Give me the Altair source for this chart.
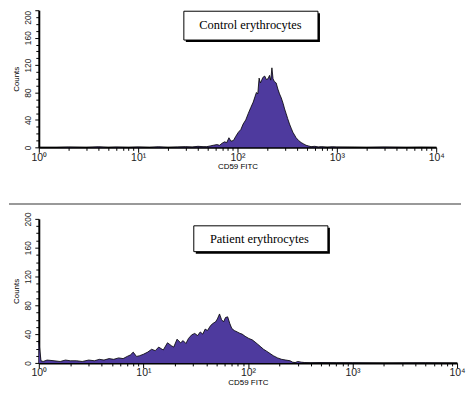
import altair as alt
import pandas as pd

# ---- data ----
control_fitc = [1, 1.5, 2, 3, 4, 5, 6, 8, 10, 13, 16, 20, 25, 30, 35, 40, 45, 49, 53, 57,
                62, 66, 70, 74, 78, 82, 86, 91, 96, 102, 108, 114, 121, 128, 136, 144, 150,
                155, 160, 165, 170, 174, 180, 188, 195, 203, 210, 216, 222, 228, 235, 245,
                255, 265, 276, 288, 298, 309, 320, 334, 347, 361, 375, 389, 412, 437, 463,
                490, 520, 550, 600, 650, 700, 800, 900, 1000, 1500, 2000, 3000, 5000, 7000,
                10000]
control_counts = [0, 0, 0.5, 0, 0.8, 0, 0.5, 0, 0.6, 0, 0.8, 0, 0.6, 1, 0.5, 1.5, 1, 1, 2, 3,
                  4, 3, 6, 8, 7, 14, 9, 10, 16, 22, 26, 34, 40, 49, 58, 66, 74,
                  80, 78, 101, 94, 97, 102, 104, 99, 100, 105, 98, 116, 100, 96, 94,
                  85, 78, 72, 64, 56, 49, 42, 34, 28, 22, 18, 14, 10, 7, 5,
                  3, 2, 1, 1.5, 0.5, 1, 0.3, 0.8, 0.5, 0.3, 0, 0.5, 0, 0.3,
                  0]

patient_fitc = [1, 1.05, 1.1, 1.2, 1.4, 1.6, 1.8, 2.0, 2.3, 2.6, 3.0, 3.4, 3.8, 4.2, 4.7, 5.2,
                5.8, 6.4, 7.0, 7.5, 8.0, 8.6, 9.2, 10, 11, 12, 13, 14, 15.5, 17, 18.5, 19.5,
                21, 22.7, 24, 25.5, 27, 29, 31, 33, 35, 37, 39, 41, 44, 46.5, 49, 51, 53.5,
                56, 58.5, 61, 64, 67, 70, 74, 79, 84, 88, 94, 102, 110, 117, 124, 131, 141,
                152, 163, 175, 192, 210, 230, 253, 268, 283, 300, 325, 350, 400, 500, 700,
                1000, 2000, 5000, 10000]
patient_counts = [31, 3, 2, 4, 3, 2, 4, 3, 3, 2, 4, 3, 5, 4, 6, 5,
                  7, 6, 9, 11, 15, 9, 10, 12, 15, 19, 17, 22, 18, 28, 24, 22,
                  33, 28, 31, 27, 34, 39, 41, 38, 43, 40, 47, 45, 52, 55, 57, 61, 68,
                  60, 57, 63, 64, 55, 48, 45, 43, 41, 40, 37, 34, 32, 29, 26, 23, 19,
                  16, 13, 10, 7, 5, 4, 3, 1, 0.5, 2, 1, 0.5, 0.3, 0.5, 0.3,
                  0.3, 0, 0.3, 0]

decade_values = [1, 10, 100, 1000, 10000]
decade_labels = ["10\u2070", "10\u00b9", "10\u00b2", "10\u00b3", "10\u2074"]
count_ticks = list(range(0, 201, 10))

panel_titles = ["Control erythrocytes", "Patient erythrocytes"]

PURPLE = "#4e3a9e"
FONT = "Liberation Sans"

x_ticks = [m * d for d in decade_values[:-1] for m in range(1, 10)] + [decade_values[-1]]
label_expr = " : ".join(
    f"datum.value == {v} ? '{l}'" for v, l in zip(decade_values, decade_labels)
) + " : ''"


def x_axis():
    return alt.Axis(values=x_ticks, labelExpr=label_expr, title="CD59 FITC",
                    titleFontSize=8, titleFont=FONT, titleFontWeight="normal",
                    titlePadding=0, labelFont=FONT, labelFontSize=10.5, labelColor="#222",
                    labelPadding=0, labelFlush=False, labelOverlap=False,
                    domainColor="black", domainWidth=2, tickColor="black",
                    tickSize={"condition": {"test": "indexof([1,10,100,1000,10000], datum.value) >= 0",
                                            "value": 5}, "value": 3},
                    grid=False)


def y_axis(flush_top):
    kw = {}
    if flush_top:
        kw["labelAlign"] = {"condition": {"test": "datum.value === 200", "value": "right"},
                            "value": "center"}
    return alt.Axis(values=count_ticks, labelExpr="datum.value % 40 === 0 ? datum.label : ''",
                    labelAngle=270, labelFont=FONT, labelFontSize=8.5, labelColor="#222",
                    labelPadding=2, labelOverlap=False,
                    title="Counts", titleFont=FONT, titleFontSize=8, titleFontWeight="normal",
                    titlePadding=3,
                    domainColor="black", domainWidth=2, tickColor="black",
                    tickSize={"condition": {"test": "datum.value % 40 === 0", "value": 4},
                              "value": 3},
                    grid=False, **kw)


def panel(fitc, counts, title, width, height, box, flush_top):
    df = pd.DataFrame({"fitc": fitc, "counts": counts})
    base = alt.Chart(df)
    area = base.mark_area(color=PURPLE, opacity=1,
                          line=alt.OverlayMarkDef(color="black", strokeWidth=0.8)).encode(
        x=alt.X("fitc:Q", scale=alt.Scale(type="log", domain=[1, 10000], nice=False),
                axis=x_axis()),
        y=alt.Y("counts:Q", scale=alt.Scale(domain=[0, 200], nice=False),
                axis=y_axis(flush_top)),
    )
    tdf = pd.DataFrame({"t": [title]})
    x0, y0, x1, y1, tx, ty = box
    shadow = alt.Chart(tdf).mark_rect(color="black").encode(
        x=alt.value(x0 + 2), x2=alt.value(x1 + 2), y=alt.value(y0 + 2), y2=alt.value(y1 + 2))
    rect = alt.Chart(tdf).mark_rect(fill="white", stroke="black", strokeWidth=1).encode(
        x=alt.value(x0), x2=alt.value(x1), y=alt.value(y0), y2=alt.value(y1))
    text = alt.Chart(tdf).mark_text(font="Liberation Serif", fontSize=12.5, color="black",
                                    align="center", baseline="middle").encode(
        text="t:N", x=alt.value(tx), y=alt.value(ty))
    return alt.layer(area, shadow, rect, text).properties(width=width, height=height)


top = panel(control_fitc, control_counts, panel_titles[0], 400, 138,
            (146, 1, 281, 30, 213, 15), True)
bottom_panel = panel(patient_fitc, patient_counts, panel_titles[1], 421, 145,
                     (156, 7, 291, 33, 222, 20), False)
sep = alt.Chart(pd.DataFrame({"a": [0]})).mark_rule(color="#777", strokeWidth=1.5).encode(
    x=alt.value(-30), x2=alt.value(425), y=alt.value(-15))
bottom = alt.layer(bottom_panel, sep)

chart = alt.vconcat(top, bottom, spacing=72, bounds="flush").properties(
    padding={"left": 0, "top": 0, "right": 0, "bottom": 0},
    background="white",
).configure_view(strokeWidth=0, stroke="transparent")

chart.save("out.html", embed_options={"renderer": "svg", "actions": False})
